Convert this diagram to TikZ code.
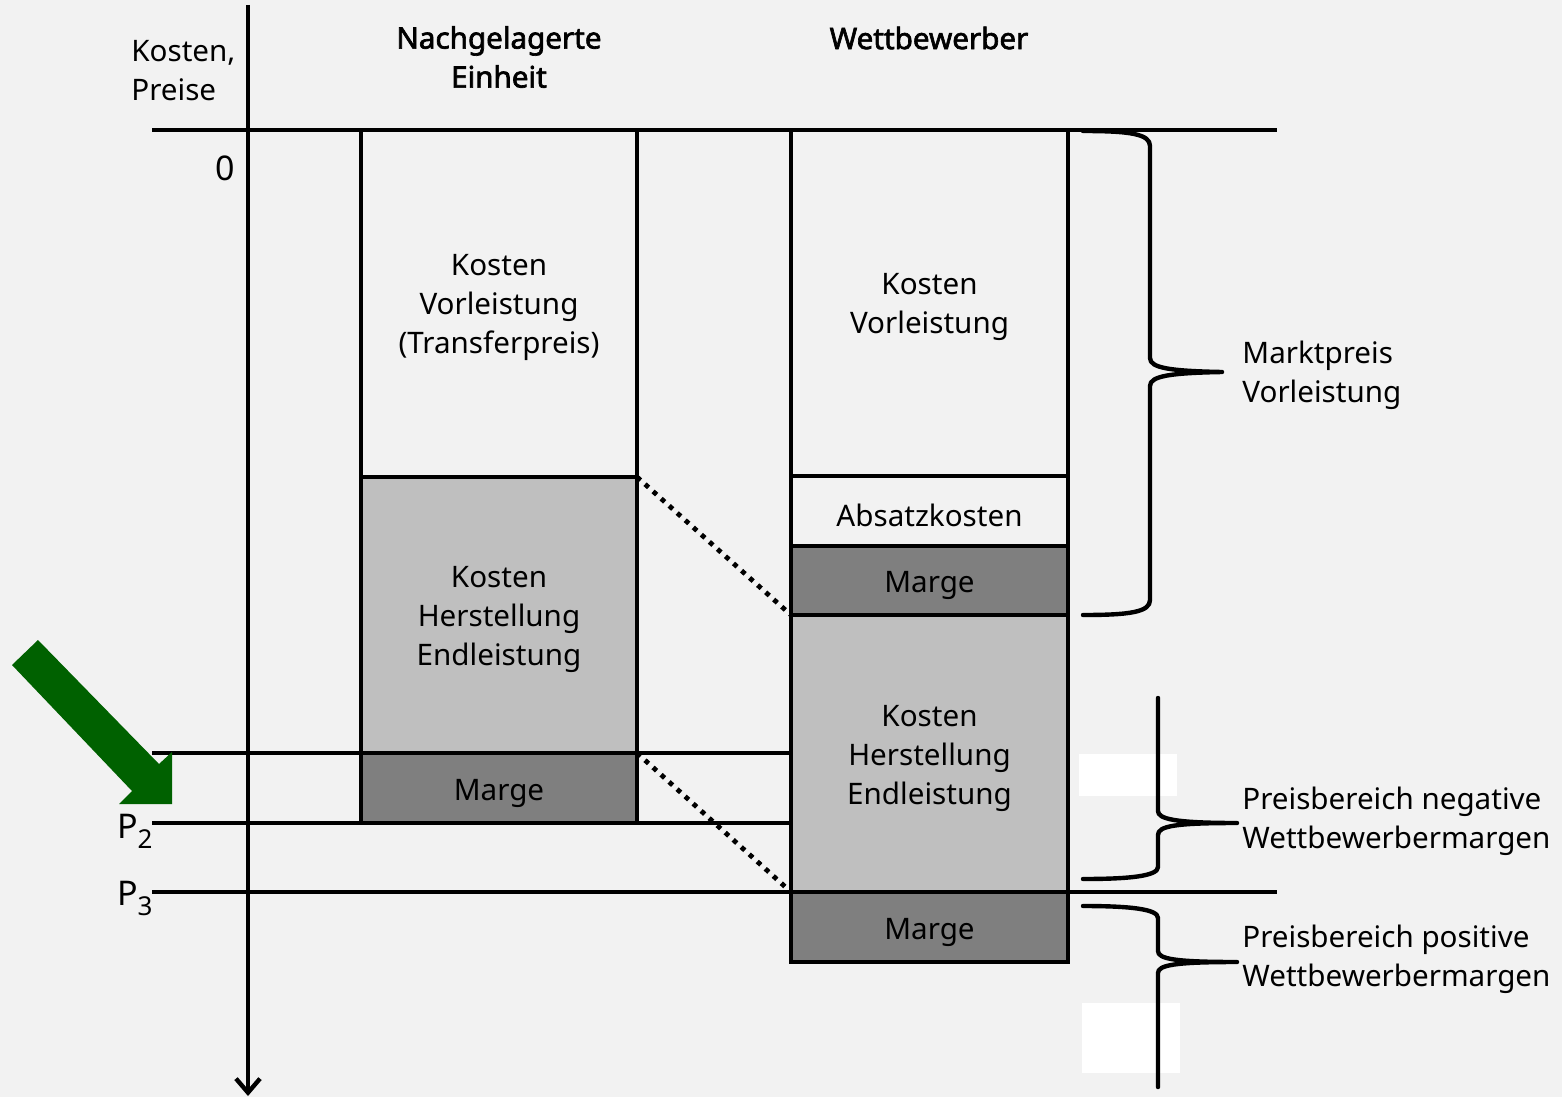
\documentclass[tikz,border=0pt]{standalone}
\usepackage{fontspec}
\setmainfont{Noto Sans}[AutoFakeBold=2.2]
\usetikzlibrary{arrows.meta}
\definecolor{bg}{HTML}{F2F2F2}
\definecolor{lgray}{HTML}{BFBFBF}
\definecolor{dgray}{HTML}{7F7F7F}
\definecolor{arrgreen}{HTML}{006100}
\tikzset{
  lbl/.style={font=\fontsize{14.8}{19.5}\selectfont, align=center, inner sep=0pt},
  hdr/.style={font=\fontsize{14.8}{19.5}\selectfont\bfseries, align=center, inner sep=0pt},
  costbox/.style={draw, line width=2.2pt, inner sep=0pt, outer sep=0pt},
  thick line/.style={line width=2.2pt},
  dotline/.style={line width=2.4pt, dash pattern=on 2.4pt off 3pt},
  bracestyle/.style={line width=2.2pt, line cap=round, line join=round},
}
\begin{document}
\begin{tikzpicture}[x=0.5pt,y=-0.5pt]
\useasboundingbox (0,0) rectangle (1562,1097);
\fill[bg] (0,0) rectangle (1562,1097);

% boxes: left column
\node[costbox, fill=bg, minimum width=138pt, minimum height=173.5pt] (L1) at (499,303.5) {};
\node[costbox, fill=lgray, minimum width=138pt, minimum height=138pt] (L2) at (499,615) {};
\node[costbox, fill=dgray, minimum width=138pt, minimum height=35pt] (L3) at (499,788) {};
% right column
\node[costbox, fill=bg, minimum width=138.5pt, minimum height=173pt] (R1) at (929.5,303) {};
\node[costbox, fill=bg, minimum width=138.5pt, minimum height=35pt] (R2) at (929.5,511) {};
\node[costbox, fill=dgray, minimum width=138.5pt, minimum height=34.5pt] (R3) at (929.5,580.5) {};
\node[costbox, fill=lgray, minimum width=138.5pt, minimum height=138.5pt] (R4) at (929.5,753.5) {};
\node[costbox, fill=dgray, minimum width=138.5pt, minimum height=35pt] (R5) at (929.5,927) {};

% box texts
\node[lbl] (L1t) at (499,307) {Kosten\\Vorleistung\\(Transferpreis)};
\node[lbl] (L2t) at (499,619) {Kosten\\Herstellung\\Endleistung};
\node[lbl] (L3t) at (499,793) {Marge};
\node[lbl] (R1t) at (929.5,307) {Kosten\\Vorleistung};
\node[lbl] (R2t) at (929.5,515) {Absatzkosten};
\node[lbl] (R3t) at (929.5,585) {Marge};
\node[lbl] (R4t) at (929.5,758) {Kosten\\Herstellung\\Endleistung};
\node[lbl] (R5t) at (929.5,932) {Marge};

% coordinates for lines
\coordinate (t0) at (152,130);
\coordinate (t1) at (1277,130);
\coordinate (p1a) at (152,753);
\coordinate (p1b) at (791,753);
\coordinate (p2a) at (152,823);
\coordinate (p2b) at (791,823);
\coordinate (p3a) at (152,892);
\coordinate (p3b) at (1277,892);
\coordinate (ax0) at (248,5);
\coordinate (ax1) at (248,1096);

\draw[thick line] (t0) -- (t1);
\draw[thick line] (p1a) -- (p1b);
\draw[thick line] (p2a) -- (p2b);
\draw[thick line] (p3a) -- (p3b);
\draw[thick line, -{Straight Barb[length=7pt,width=12pt,line width=2.2pt]}] (ax0) -- (ax1);

% dotted connectors
\draw[dotline] (L1.south east) -- (R3.south west);
\draw[dotline] (L2.south east) -- (R4.south west);

% headers and axis labels
\node[hdr] (h1) at (499,57) {Nachgelagerte\\Einheit};
\node[hdr] (h2) at (929,38) {Wettbewerber};
\node[lbl, anchor=west, align=left] (ylab) at (131,71) {Kosten,\\Preise};
\node[lbl] (zero) at (225,168) {\fontsize{17}{17}\selectfont 0};
\node[lbl, anchor=east] (P2) at (153,831) {\fontsize{17}{17}\selectfont P\raisebox{-0.55ex}{\fontsize{13}{13}\selectfont 2}};
\node[lbl, anchor=east] (P3) at (153,898) {\fontsize{17}{17}\selectfont P\raisebox{-0.55ex}{\fontsize{13}{13}\selectfont 3}};

% green arrow
\fill[arrgreen] (12,665) -- (38,640) -- (159,764) -- (172,752) -- (172,804) -- (119,804) -- (132,791) -- cycle;

% white patches
\fill[white] (1079,754) rectangle (1177,796);
\fill[white] (1082,1003) rectangle (1180,1073);

% braces
\draw[bracestyle] (1083,131) .. controls (1130,131) and (1150,134) .. (1150,146) -- (1150,358)
  .. controls (1150,368) and (1170,371) .. (1222,372)
  .. controls (1170,373) and (1150,376) .. (1150,386) -- (1150,600)
  .. controls (1150,612) and (1130,615) .. (1083,615);
\draw[bracestyle] (1158,698) -- (1158,811)
  .. controls (1158,819) and (1175,823) .. (1237,823)
  .. controls (1175,823) and (1158,826) .. (1158,835) -- (1158,867)
  .. controls (1158,876) and (1130,879) .. (1083,879);
\draw[bracestyle] (1083,906) .. controls (1130,906) and (1158,909) .. (1158,918) -- (1158,951)
  .. controls (1158,959) and (1175,962) .. (1237,962)
  .. controls (1175,962) and (1158,965) .. (1158,973) -- (1158,1087);

% brace labels
\node[lbl, anchor=west, align=left] (mp) at (1242,375) {Marktpreis\\Vorleistung};
\node[lbl, anchor=west, align=left] (neg) at (1242,821) {Preisbereich negative\\Wettbewerbermargen};
\node[lbl, anchor=west, align=left] (pos) at (1242,959) {Preisbereich positive\\Wettbewerbermargen};
\end{tikzpicture}
\end{document}
